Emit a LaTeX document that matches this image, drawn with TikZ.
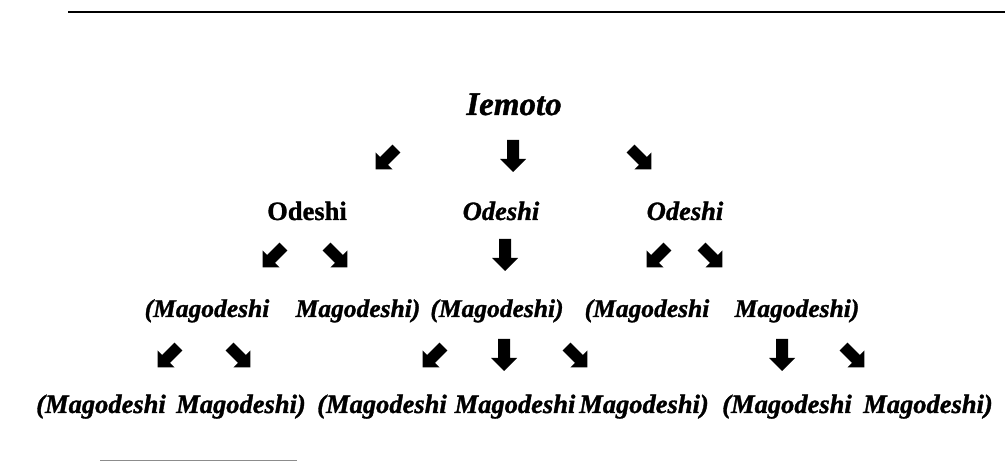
\documentclass[tikz,border=0pt]{standalone}
\usepackage{fontspec}
\setmainfont{Liberation Serif}
\newfontfamily\heavyserif[FakeBold=1.2]{Liberation Serif}
\tikzset{
  barrow/.pic={\fill (-6,-16) -- (6,-16) -- (6,3) -- (13,3) -- (0,16) -- (-13,3) -- (-6,3) -- cycle;},
  word/.style={font=\heavyserif\bfseries\itshape\fontsize{25.5}{30}\selectfont, anchor=base, inner sep=0pt},
  bigword/.style={word, font=\heavyserif\bfseries\itshape\fontsize{26.5}{30}\selectfont},
  upword/.style={word, font=\heavyserif\bfseries\fontsize{26.5}{30}\selectfont},
  topword/.style={word, font=\heavyserif\bfseries\itshape\fontsize{33}{38}\selectfont},
  rule/.style={line width=2pt, black},
  thinrule/.style={line width=1pt, black!45},
  sw/.style={rotate=-45, scale=0.92},
  se/.style={rotate=45, scale=0.92},
}
\begin{document}
\begin{tikzpicture}[x=1pt, y=-1pt]
\useasboundingbox (0,0) rectangle (1005,462);
% rules
\coordinate (r1a) at (68,12.5);
\coordinate (r1b) at (1005,12.5);
\draw[rule] (r1a) -- (r1b);
\coordinate (r2a) at (100,461);
\coordinate (r2b) at (297,461);
\draw[thinrule] (r2a) -- (r2b);
% row 1
\node[topword] (iemoto) at (514,115) {Iemoto};
\pic[sw] at (386,159) {barrow};
\pic at (513,156) {barrow};
\pic[se] at (641,159) {barrow};
% row 2
\node[upword] (od1) at (307,220) {Odeshi};
\node[bigword] (od2) at (501,220) {Odeshi};
\node[bigword] (od3) at (685,220) {Odeshi};
\pic[sw] at (273,257) {barrow};
\pic[se] at (337,257) {barrow};
\pic at (505,255) {barrow};
\pic[sw] at (657,257) {barrow};
\pic[se] at (712,257) {barrow};
% row 3
\node[word] (m31) at (207,317) {(Magodeshi};
\node[word] (m32) at (358,317) {Magodeshi)};
\node[word] (m33) at (497,317) {(Magodeshi)};
\node[word] (m34) at (647,317) {(Magodeshi};
\node[word] (m35) at (797,317) {Magodeshi)};
% row 4 arrows
\pic[sw] at (168,357) {barrow};
\pic[se] at (240,357) {barrow};
\pic[sw] at (433,357) {barrow};
\pic at (504,355) {barrow};
\pic[se] at (577,357) {barrow};
\pic at (782,355) {barrow};
\pic[se] at (854,357) {barrow};
% row 5
\node[bigword] (m51) at (101,413) {(Magodeshi};
\node[bigword] (m52) at (241,413) {Magodeshi)};
\node[bigword] (m53) at (382,413) {(Magodeshi};
\node[bigword] (m54) at (515,413) {Magodeshi};
\node[bigword] (m55) at (644,413) {Magodeshi)};
\node[bigword] (m56) at (787,413) {(Magodeshi};
\node[bigword] (m57) at (928,413) {Magodeshi)};
\end{tikzpicture}
\end{document}
